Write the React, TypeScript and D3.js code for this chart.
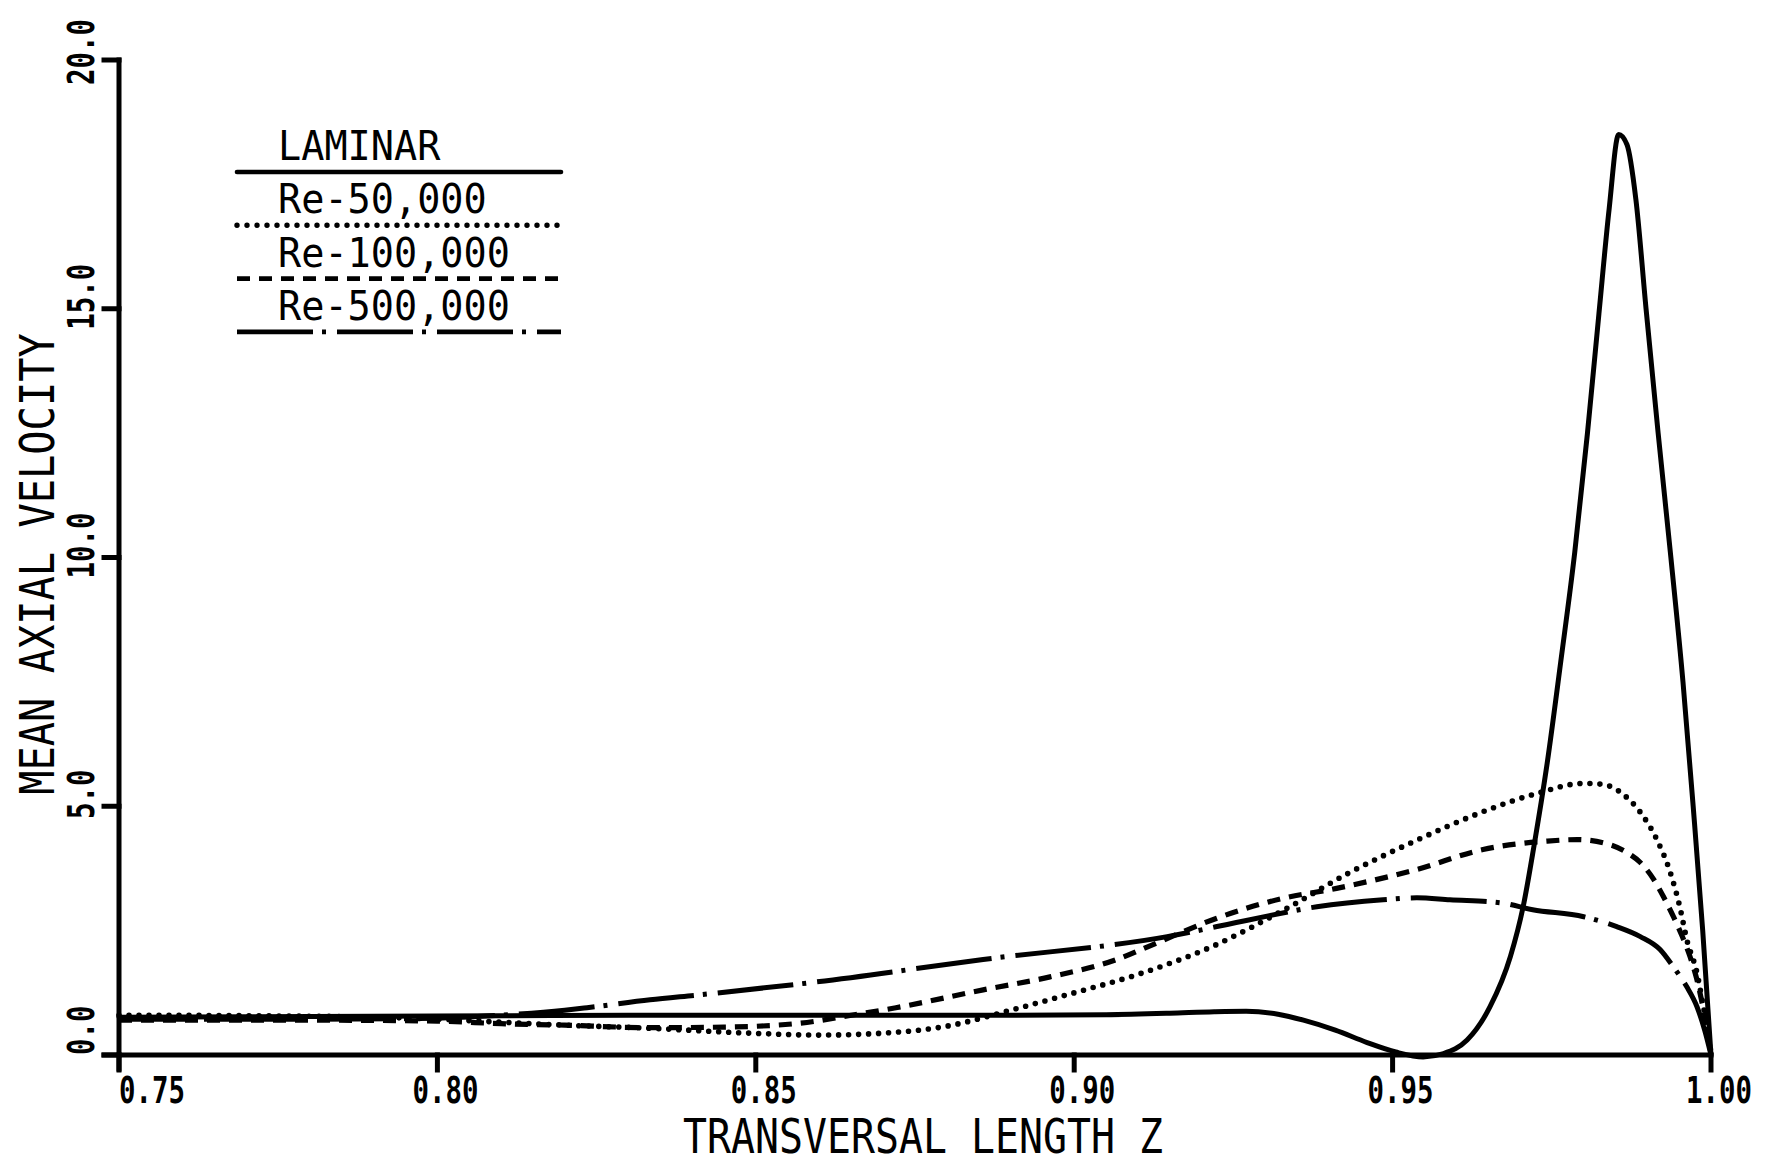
import React from 'react';
import * as d3 from 'd3';

// Mean axial velocity profiles across the transversal length Z
const laminar: [number, number][] = [
  [0.75, 0.76], [0.77, 0.77], [0.79, 0.78], [0.81, 0.79], [0.83, 0.8], [0.85, 0.8],
  [0.87, 0.8], [0.89, 0.8], [0.905, 0.81], [0.915, 0.84], [0.922, 0.87], [0.927, 0.88],
  [0.932, 0.82], [0.936, 0.7], [0.941, 0.5], [0.946, 0.25], [0.9505, 0.06], [0.9548, -0.04],
  [0.958, 0.03], [0.9617, 0.3], [0.9653, 0.97], [0.9685, 1.98], [0.9705, 2.98], [0.9722, 4.2],
  [0.9742, 5.8], [0.9764, 7.9], [0.9786, 10.1], [0.9806, 12.5], [0.9824, 14.9], [0.984, 17.0],
  [0.9855, 18.5], [0.9868, 18.3], [0.9882, 17.2], [0.9898, 15.0], [0.9917, 12.5], [0.9937, 10.0],
  [0.9956, 7.5], [0.9972, 5.0], [0.9987, 2.5], [1.0, 0.0],
];

const re50k: [number, number][] = [
  [0.75, 0.8], [0.77, 0.79], [0.79, 0.76], [0.8, 0.72], [0.81, 0.66], [0.82, 0.6],
  [0.833, 0.54], [0.849, 0.44], [0.86, 0.4], [0.87, 0.44], [0.88, 0.58], [0.89, 0.9],
  [0.9, 1.25], [0.91, 1.62], [0.922, 2.2], [0.933, 2.92], [0.943, 3.65], [0.954, 4.33],
  [0.964, 4.88], [0.9727, 5.26], [0.98, 5.46], [0.983, 5.44], [0.9862, 5.24], [0.9889, 4.88],
  [0.9915, 4.33], [0.9936, 3.67], [0.9951, 2.98], [0.9962, 2.32], [0.9978, 1.65],
  [0.9988, 0.97], [0.9996, 0.44], [1.0, 0.0],
];

const re100k: [number, number][] = [
  [0.75, 0.7], [0.78, 0.7], [0.8, 0.68], [0.81, 0.63], [0.82, 0.6], [0.833, 0.55],
  [0.845, 0.56], [0.857, 0.64], [0.865, 0.8], [0.872, 0.95], [0.8857, 1.31], [0.8962, 1.57],
  [0.9067, 1.92], [0.912, 2.2], [0.9224, 2.75], [0.9328, 3.15], [0.9412, 3.35], [0.9538, 3.73],
  [0.9642, 4.13], [0.9743, 4.3], [0.979, 4.33], [0.9841, 4.23], [0.9868, 4.07], [0.9889, 3.87],
  [0.991, 3.53], [0.9925, 3.19], [0.9941, 2.78], [0.9955, 2.38], [0.9967, 1.98],
  [0.9978, 1.51], [0.9986, 1.05], [0.9993, 0.6], [1.0, 0.0],
];

const re500k: [number, number][] = [
  [0.75, 0.72], [0.78, 0.72], [0.8, 0.74], [0.81, 0.8], [0.82, 0.9], [0.8235, 0.95],
  [0.8334, 1.11], [0.8412, 1.21], [0.8596, 1.47], [0.8857, 1.92], [0.9146, 2.38],
  [0.9276, 2.72], [0.9381, 2.98], [0.9485, 3.12], [0.9538, 3.16], [0.959, 3.12],
  [0.9669, 3.06], [0.972, 2.92], [0.98, 2.78], [0.9852, 2.58], [0.9889, 2.38], [0.992, 2.12],
  [0.9941, 1.77], [0.9962, 1.37], [0.9978, 0.97], [0.999, 0.5], [1.0, 0.0],
];

const xTicks = [0.75, 0.8, 0.85, 0.9, 0.95, 1.0];
const xTickLabels = ['0.75', '0.80', '0.85', '0.90', '0.95', '1.00'];
const yTicks = [0, 5, 10, 15, 20];
const yTickLabels = ['0.0', '5.0', '10.0', '15.0', '20.0'];

const legendLabels = ['LAMINAR', 'Re-50,000', 'Re-100,000', 'Re-500,000'];

const W = 1769;
const H = 1164;
const FONT = '"DejaVu Sans Mono", "Liberation Mono", monospace';
// advance width of a DejaVu Sans Mono glyph, in em
const MONO_ADVANCE = 0.602;

const x = d3.scaleLinear().domain([0.75, 1.0]).range([119, 1711]);
const y = d3.scaleLinear().domain([0, 20]).range([1055, 60]);

const lineGen = d3
  .line<[number, number]>()
  .x((d) => x(d[0]))
  .y((d) => y(d[1]))
  .curve(d3.curveMonotoneX);

type Style = { dash?: string; cap: 'round' | 'butt'; width: number };
const styles: Style[] = [
  { cap: 'round', width: 5 },
  { dash: '0 10', cap: 'round', width: 5.6 },
  { dash: '13 9', cap: 'butt', width: 5.2 },
  { dash: '76 9 4 11', cap: 'butt', width: 5 },
];
const series = [laminar, re50k, re100k, re500k];

const TICK_PITCH = 16.5;
const TITLE_PITCH = 24;

// Plotter-style lettering: monospaced glyphs squeezed to a fixed character pitch.
function PlotText(props: {
  text: string;
  cx: number;
  cy: number;
  pitch: number;
  size: number;
  bold?: boolean;
  vertical?: boolean;
  anchor?: 'start' | 'middle';
}) {
  const { text, cx, cy, pitch, size, bold, vertical, anchor = 'middle' } = props;
  const natural = text.length * MONO_ADVANCE * size;
  const sx = (text.length * pitch) / natural;
  const rot = vertical ? ' rotate(-90)' : '';
  return (
    <text
      transform={`translate(${cx}, ${cy})${rot} scale(${sx}, 1)`}
      textAnchor={anchor}
      fontFamily={FONT}
      fontWeight={bold ? 'bold' : 'normal'}
      fontSize={size}
      fill="#000"
    >
      {text}
    </text>
  );
}

export default function App() {
  const x0 = x(0.75);
  const y0 = y(0);
  return (
    <svg
      width={W}
      height={H}
      viewBox={`0 0 ${W} ${H}`}
      style={{ position: 'absolute', left: 0, top: 0, background: '#fff' }}
    >
      <rect x={0} y={0} width={W} height={H} fill="#fff" />

      {/* curves */}
      <g fill="none" stroke="#000" strokeLinejoin="round">
        {series.map((s, i) => (
          <path
            key={i}
            d={lineGen(s) || ''}
            strokeDasharray={styles[i].dash}
            strokeLinecap={styles[i].cap}
            strokeWidth={styles[i].width}
          />
        ))}
      </g>

      {/* axes */}
      <g stroke="#000" strokeWidth={5} fill="none" strokeLinecap="square">
        <line x1={x0} y1={y(20)} x2={x0} y2={y0 + 14} />
        <line x1={x0 - 15} y1={y0} x2={x(1.0)} y2={y0} />
        {xTicks.map((t) => (
          <line key={t} x1={x(t)} y1={y0} x2={x(t)} y2={y0 + 15} />
        ))}
        {yTicks.map((t) => (
          <line key={t} x1={x0} y1={y(t)} x2={x0 - 15} y2={y(t)} />
        ))}
      </g>

      {/* x tick labels */}
      {xTicks.map((t, i) => {
        const len = xTickLabels[i].length * TICK_PITCH;
        const cx = Math.max(x(t) + 8, x0 + len / 2);
        return (
          <PlotText
            key={t}
            text={xTickLabels[i]}
            cx={cx}
            cy={1103}
            pitch={TICK_PITCH}
            size={38}
            bold
          />
        );
      })}

      {/* y tick labels */}
      {yTicks.map((t, i) => {
        const len = yTickLabels[i].length * TICK_PITCH;
        const cy = Math.max(Math.min(y(t) - 12, y0 - len / 2), len / 2 + 19);
        return (
          <PlotText
            key={t}
            text={yTickLabels[i]}
            cx={94}
            cy={cy}
            pitch={TICK_PITCH}
            size={38}
            bold
            vertical
          />
        );
      })}

      {/* axis titles */}
      <PlotText text="TRANSVERSAL LENGTH Z" cx={923} cy={1153} pitch={TITLE_PITCH} size={48} />
      <PlotText text="MEAN AXIAL VELOCITY" cx={54} cy={564} pitch={24.3} size={48} vertical />

      {/* legend */}
      {legendLabels.map((lab, i) => {
        const lineY = 172 + i * 53.3;
        return (
          <g key={lab}>
            <PlotText text={lab} cx={278} cy={lineY - 12} pitch={23.2} size={40} anchor="start" />
            <line
              x1={237}
              x2={561}
              y1={lineY}
              y2={lineY}
              stroke="#000"
              strokeWidth={i === 1 ? 5.4 : 4.6}
              strokeDasharray={styles[i].dash}
              strokeLinecap={styles[i].cap}
            />
          </g>
        );
      })}
    </svg>
  );
}
